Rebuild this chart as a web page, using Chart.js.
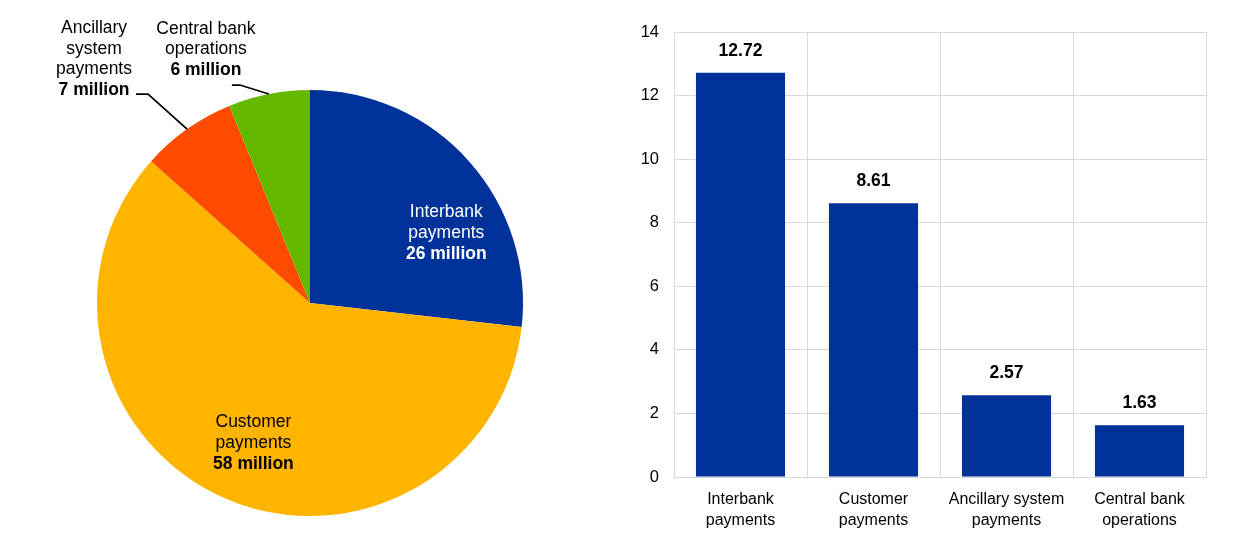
<!DOCTYPE html>
<html lang="en">
<head>
    <meta charset="UTF-8">
    <title>Payments chart</title>
    <style>
        body {
            margin: 0;
            background: #ffffff;
            font-family: "Liberation Sans", Arial, sans-serif;
        }
        .wrap {
            display: flex;
            width: 1240px;
            height: 549px;
        }
        .panel {
            width: 620px;
            height: 549px;
        }
    </style>
    <script src="https://cdn.jsdelivr.net/npm/chart.js"></script>
</head>
<body>
    <div class="wrap">
        <div class="panel"><canvas id="pieChart" width="620" height="549"></canvas></div>
        <div class="panel"><canvas id="barChart" width="620" height="549"></canvas></div>
    </div>

    <script>
        // Left: volumes (million transactions)
        const pieCategories = [
            ['Interbank', 'payments'],
            ['Customer', 'payments'],
            ['Ancillary', 'system', 'payments'],
            ['Central bank', 'operations']
        ];
        const pieValues = [26, 58, 7, 6];
        const pieColors = ['#003299', '#ffb400', '#ff4b00', '#65b800'];

        // Right: bar values
        const barCategories = [
            ['Interbank', 'payments'],
            ['Customer', 'payments'],
            ['Ancillary system', 'payments'],
            ['Central bank', 'operations']
        ];
        const barValues = [12.72, 8.61, 2.57, 1.63];
        const yTicks = [0, 2, 4, 6, 8, 10, 12, 14];

        const FONT = '"Liberation Sans", Arial, sans-serif';
        const GRID = '#d9d9d9';
        Chart.defaults.font.family = FONT;
        Chart.defaults.color = '#000000';

        // how each pie label is placed (inside or outside with a leader line)
        const pieLabelLayout = [
            { inside: true, angleFrac: 0.65, radiusFrac: 0.72, color: '#ffffff' },
            { inside: true, angleFrac: 0.49, radiusFrac: 0.71, color: '#000000' },
            { inside: false, elbow: [-39, -35], tail: 12, text: [-42, -4] },
            { inside: false, elbow: [-29, -9], tail: 8, text: [-26, -15] }
        ];

        function drawLines(ctx, lines, x, yLast, lineH, color) {
            ctx.fillStyle = color;
            ctx.textAlign = 'center';
            ctx.textBaseline = 'middle';
            const n = lines.length;
            lines.forEach((ln, i) => {
                ctx.font = (ln.bold ? 'bold ' : '') + '17.5px ' + FONT;
                ctx.fillText(ln.text, x, yLast - (n - 1 - i) * lineH);
            });
        }

        const pieLabelPlugin = {
            id: 'pieLabels',
            afterDatasetsDraw(chart) {
                const ctx = chart.ctx;
                const meta = chart.getDatasetMeta(0);
                ctx.save();
                meta.data.forEach((arc, i) => {
                    const lay = pieLabelLayout[i];
                    const lines = pieCategories[i].map(t => ({ text: t, bold: false }));
                    lines.push({ text: pieValues[i] + ' million', bold: true });
                    const r = arc.outerRadius;
                    if (lay.inside) {
                        const a = arc.startAngle + (arc.endAngle - arc.startAngle) * lay.angleFrac;
                        const cx = arc.x + Math.cos(a) * r * lay.radiusFrac;
                        const cy = arc.y + Math.sin(a) * r * lay.radiusFrac;
                        const lineH = 21;
                        const yLast = cy + (lines.length - 1) * lineH / 2;
                        drawLines(ctx, lines, cx, yLast, lineH, lay.color);
                    } else {
                        const a = (arc.startAngle + arc.endAngle) / 2;
                        const ex = arc.x + Math.cos(a) * r;
                        const ey = arc.y + Math.sin(a) * r;
                        const bx = ex + lay.elbow[0];
                        const by = ey + lay.elbow[1];
                        const tx = bx - lay.tail;
                        ctx.strokeStyle = '#000000';
                        ctx.lineWidth = 1.75;
                        ctx.beginPath();
                        ctx.moveTo(ex, ey);
                        ctx.lineTo(bx, by);
                        ctx.lineTo(tx, by);
                        ctx.stroke();
                        drawLines(ctx, lines, tx + lay.text[0], by + lay.text[1], 20.5, '#000000');
                    }
                });
                ctx.restore();
            }
        };

        new Chart(document.getElementById('pieChart'), {
            type: 'pie',
            data: {
                labels: pieCategories.map(c => c.join(' ')),
                datasets: [{
                    data: pieValues,
                    backgroundColor: pieColors,
                    borderWidth: 0
                }]
            },
            options: {
                responsive: false,
                animation: false,
                layout: { padding: { top: 90, bottom: 33, left: 97, right: 97 } },
                plugins: {
                    legend: { display: false },
                    tooltip: { enabled: false }
                }
            },
            plugins: [pieLabelPlugin]
        });

        // value labels above the bars
        const barLabelPlugin = {
            id: 'barLabels',
            afterDatasetsDraw(chart) {
                const ctx = chart.ctx;
                ctx.save();
                ctx.font = 'bold 17.5px ' + FONT;
                ctx.fillStyle = '#000000';
                ctx.textAlign = 'center';
                ctx.textBaseline = 'middle';
                chart.getDatasetMeta(0).data.forEach((bar, i) => {
                    ctx.fillText(barValues[i].toFixed(2), bar.x, bar.y - 22);
                });
                ctx.restore();
            }
        };

        new Chart(document.getElementById('barChart'), {
            type: 'bar',
            data: {
                labels: barCategories,
                datasets: [{
                    data: barValues,
                    backgroundColor: '#003299',
                    categoryPercentage: 1,
                    barPercentage: 0.67
                }]
            },
            options: {
                responsive: false,
                animation: false,
                layout: { padding: { top: 32, right: 34, left: 0, bottom: 0 } },
                scales: {
                    x: {
                        grid: { color: GRID, lineWidth: 1, drawTicks: false, offset: true },
                        border: { color: GRID },
                        ticks: {
                            color: '#000000',
                            padding: 12,
                            maxRotation: 0,
                            autoSkip: false,
                            font: { family: FONT, size: 16, lineHeight: 1.3 }
                        },
                        afterFit(scale) { scale.height = 72; }
                    },
                    y: {
                        min: 0,
                        max: 14,
                        grid: { color: GRID, lineWidth: 1, drawTicks: false },
                        border: { color: GRID },
                        afterBuildTicks(scale) { scale.ticks = yTicks.map(v => ({ value: v })); },
                        ticks: {
                            color: '#000000',
                            padding: 15,
                            font: { family: FONT, size: 16.5 }
                        },
                        afterFit(scale) { scale.width = 54; }
                    }
                },
                plugins: {
                    legend: { display: false },
                    tooltip: { enabled: false }
                }
            },
            plugins: [barLabelPlugin]
        });
    </script>
</body>
</html>
